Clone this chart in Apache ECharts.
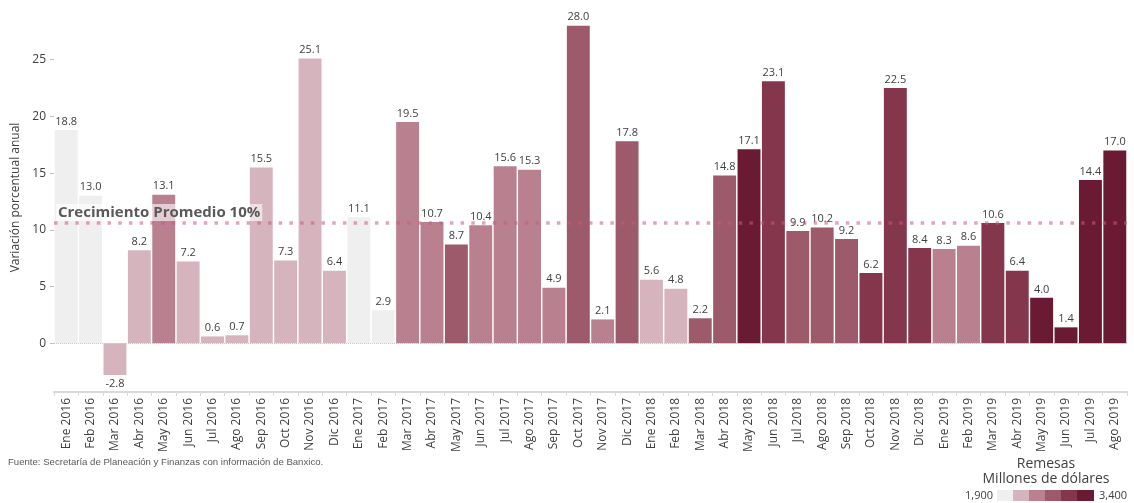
<!DOCTYPE html>
<html>
<head>
<meta charset="utf-8">
<script src="https://cdn.jsdelivr.net/npm/echarts@6/dist/echarts.min.js"></script>
<style>
  html, body { margin: 0; padding: 0; background: #fff; }
  #remesasChart { width: 1134px; height: 503px; }
</style>
</head>
<body>
<div id="remesasChart"></div>
<script>
// meses (eje x)
const months = [
  "Ene 2016", "Feb 2016", "Mar 2016", "Abr 2016", "May 2016", "Jun 2016",
  "Jul 2016", "Ago 2016", "Sep 2016", "Oct 2016", "Nov 2016", "Dic 2016",
  "Ene 2017", "Feb 2017", "Mar 2017", "Abr 2017", "May 2017", "Jun 2017",
  "Jul 2017", "Ago 2017", "Sep 2017", "Oct 2017", "Nov 2017", "Dic 2017",
  "Ene 2018", "Feb 2018", "Mar 2018", "Abr 2018", "May 2018", "Jun 2018",
  "Jul 2018", "Ago 2018", "Sep 2018", "Oct 2018", "Nov 2018", "Dic 2018",
  "Ene 2019", "Feb 2019", "Mar 2019", "Abr 2019", "May 2019", "Jun 2019",
  "Jul 2019", "Ago 2019"
];
// variación porcentual anual
const variacion = [
  18.8, 13.0, -2.8, 8.2, 13.1, 7.2, 0.6, 0.7, 15.5, 7.3, 25.1, 6.4,
  11.1, 2.9, 19.5, 10.7, 8.7, 10.4, 15.6, 15.3, 4.9, 28.0, 2.1, 17.8,
  5.6, 4.8, 2.2, 14.8, 17.1, 23.1, 9.9, 10.2, 9.2, 6.2, 22.5, 8.4,
  8.3, 8.6, 10.6, 6.4, 4.0, 1.4, 14.4, 17.0
];
// remesas, millones de dólares (estimadas a partir del color)
const remesas = [
  1927, 1933, 2205, 2163, 2478, 2281, 2180, 2315, 2380, 2380, 2390, 2268,
  2053, 1986, 2523, 2420, 2690, 2450, 2500, 2580, 2430, 2680, 2420, 2690,
  2170, 2160, 2670, 2720, 3160, 3030, 2800, 2840, 2690, 2930, 2940, 2950,
  2500, 2430, 2990, 2910, 3320, 3210, 3210, 3390
];
const yTicks = [0, 5, 10, 15, 20, 25];
const promedio = 10.6;
const rangos = [1900, 2150, 2400, 2650, 2900, 3150, 3400];
const rangoTextos = ["1,900", "3,400"];
const colores = ["#efefef", "#d5b4bd", "#b9808f", "#9d5a6a", "#84364d", "#6a1b33"];

const pieces = colores.map((c, i) => ({ min: rangos[i], max: rangos[i + 1], color: c }));

const barData = months.map((m, i) => {
  const item = { value: [m, variacion[i], remesas[i]] };
  if (variacion[i] < 0) item.label = { position: "bottom" };
  return item;
});

const mychart = echarts.init(document.getElementById("remesasChart"));
const option = {
  animation: false,
  textStyle: { fontFamily: "Open Sans" },
  grid: { left: 54, right: 7, top: 3, bottom: 111, containLabel: false },
  xAxis: {
    type: "category",
    data: months,
    axisLine: { show: true, onZero: false, lineStyle: { color: "#d9d9d9", width: 2 } },
    axisTick: { show: true, length: 4, lineStyle: { color: "#d9d9d9" } },
    axisLabel: { rotate: 90, fontSize: 12, color: "#404040", margin: 6, interval: 0 }
  },
  yAxis: {
    type: "value",
    min: -4.3,
    max: 30,
    name: "Variación porcentual anual",
    nameLocation: "middle",
    nameGap: 30,
    nameTextStyle: { fontSize: 12, color: "#404040" },
    axisLine: { show: false },
    axisTick: { show: true, length: 4, customValues: yTicks, lineStyle: { color: "#bfbfbf" } },
    axisLabel: { fontSize: 12, color: "#404040", margin: 8, customValues: yTicks },
    splitLine: { show: false }
  },
  visualMap: {
    type: "piecewise",
    seriesIndex: 0,
    dimension: 2,
    orient: "horizontal",
    left: 997,
    top: 490,
    padding: 0,
    itemWidth: 17,
    itemHeight: 11,
    itemGap: -1,
    itemSymbol: "rect",
    showLabel: false,
    pieces: pieces
  },
  graphic: [
    {
      type: "text",
      left: 8,
      top: 457,
      style: {
        text: "Fuente: Secretaría de Planeación y Finanzas con información de Banxico.",
        font: "9.6px 'Liberation Sans'",
        fill: "#595959"
      }
    },
    {
      type: "text",
      x: 1046,
      y: 457,
      style: {
        text: "Remesas\nMillones de dólares",
        font: "14px 'Open Sans'",
        fill: "#404040",
        align: "center",
        lineHeight: 15
      }
    },
    {
      type: "text",
      x: 993,
      y: 496,
      style: {
        text: rangoTextos[0],
        font: "11px 'Open Sans'",
        fill: "#404040",
        align: "right",
        verticalAlign: "middle"
      }
    },
    {
      type: "text",
      x: 1099,
      y: 496,
      style: {
        text: rangoTextos[1],
        font: "11px 'Open Sans'",
        fill: "#404040",
        align: "left",
        verticalAlign: "middle"
      }
    }
  ],
  series: [
    {
      type: "bar",
      data: barData,
      encode: { x: 0, y: 1 },
      barCategoryGap: "6%",
      label: {
        show: true,
        position: "top",
        distance: 3,
        fontSize: 11,
        color: "#404040",
        formatter: p => p.value[1].toFixed(1)
      },
      markLine: {
        silent: true,
        symbol: "none",
        data: [
          {
            yAxis: 0,
            lineStyle: { color: "#c8c8c8", width: 1, type: "dotted" },
            label: { show: false }
          },
          {
            yAxis: promedio,
            lineStyle: { color: "rgba(200, 90, 125, 0.55)", width: 3.5, type: [3.5, 7.2] },
            label: {
              show: true,
              position: "insideStartTop",
              formatter: "Crecimiento Promedio 10%",
              fontSize: 15,
              fontWeight: "bold",
              color: "#595959",
              backgroundColor: "rgba(255,255,255,0.6)",
              padding: [1, 2],
              distance: [2, 2]
            }
          }
        ]
      }
    }
  ]
};
mychart.setOption(option);
</script>
</body>
</html>
